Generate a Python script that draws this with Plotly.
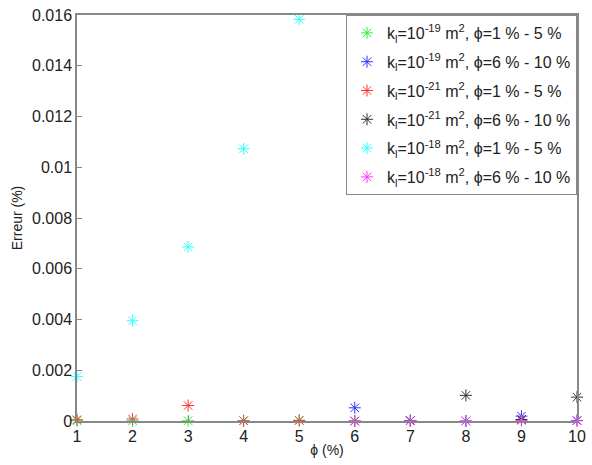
import plotly.graph_objects as go

phi_a = [1, 2, 3, 4, 5]
phi_b = [6, 7, 8, 9, 10]

green_1e19_a = [0.00001, 0.00001, 0.00001, 0.00001, 0.00003]
blue_1e19_b = [0.00052, 0.00002, 0.0, 0.00019, 0.00002]
red_1e21_a = [0.00005, 0.00008, 0.00061, 0.00001, 0.00002]
black_1e21_b = [0.0, 0.00001, 0.00101, 0.00006, 0.00094]
cyan_1e18_a = [0.00175, 0.00395, 0.00686, 0.01073, 0.01583]
magenta_1e18_b = [0.0, 0.00001, 0.0, 0.00002, 0.00001]

series = [
    ("k<sub>l</sub>=10<sup>-19</sup> m<sup>2</sup>, \u03d5=1 % - 5 %", phi_a, green_1e19_a, "#33ee33"),
    ("k<sub>l</sub>=10<sup>-19</sup> m<sup>2</sup>, \u03d5=6 % - 10 %", phi_b, blue_1e19_b, "#3333ff"),
    ("k<sub>l</sub>=10<sup>-21</sup> m<sup>2</sup>, \u03d5=1 % - 5 %", phi_a, red_1e21_a, "#ff3333"),
    ("k<sub>l</sub>=10<sup>-21</sup> m<sup>2</sup>, \u03d5=6 % - 10 %", phi_b, black_1e21_b, "#333333"),
    ("k<sub>l</sub>=10<sup>-18</sup> m<sup>2</sup>, \u03d5=1 % - 5 %", phi_a, cyan_1e18_a, "#33ffff"),
    ("k<sub>l</sub>=10<sup>-18</sup> m<sup>2</sup>, \u03d5=6 % - 10 %", phi_b, magenta_1e18_b, "#ff33ff"),
]

fig = go.Figure()
for i, (name, xs, ys, col) in enumerate(series):
    fig.add_trace(go.Scatter(
        x=xs, y=ys, mode="markers", name=name, cliponaxis=False,
        legendgroup=f"g{i}",
        marker=dict(symbol="asterisk-open", size=10, color=col, line=dict(color=col, width=1)),
    ))

axis_common = dict(
    showline=True, linecolor="#888888", linewidth=1.5, mirror=True,
    ticks="inside", ticklen=5, tickcolor="#888888",
    showgrid=False, zeroline=False, automargin=False,
    tickfont=dict(family="Liberation Sans, Arial", size=16, color="#222222"),
)

fig.update_layout(
    width=592, height=465,
    margin=dict(l=77, r=15, t=15, b=44),
    paper_bgcolor="white", plot_bgcolor="white",
    font=dict(family="Liberation Sans, Arial", size=14, color="#222222"),
    xaxis=dict(range=[1, 10], tickmode="array", tickvals=list(range(1, 11)),
               title=dict(text="\u03d5 (%)", standoff=1, font=dict(size=14)), **axis_common),
    yaxis=dict(range=[0, 0.016], tickmode="array",
               tickvals=[0, 0.002, 0.004, 0.006, 0.008, 0.01, 0.012, 0.014, 0.016],
               ticktext=["0", "0.002", "0.004", "0.006", "0.008", "0.01", "0.012", "0.014", "0.016"],
               title=dict(text="Erreur (%)", standoff=6, font=dict(size=14)), **axis_common),
    legend=dict(x=1, xanchor="right", y=1, yanchor="top",
                bordercolor="#888888", borderwidth=1, bgcolor="white",
                font=dict(size=16), itemwidth=30, tracegroupgap=5),
    showlegend=True,
)

fig.write_html("out.html", config={"displayModeBar": False},
               post_script="document.body.style.margin='0px';")
